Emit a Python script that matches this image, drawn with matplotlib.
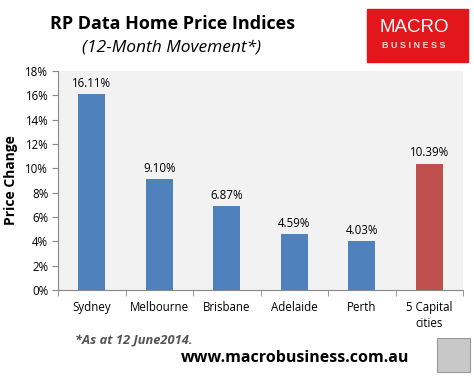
import matplotlib.pyplot as plt
from matplotlib.patches import Rectangle
from matplotlib.ticker import FuncFormatter, FixedLocator
import numpy as np

cities = ["Sydney", "Melbourne", "Brisbane", "Adelaide", "Perth", "5 Capital\ncities"]
changes = [16.11, 9.10, 6.87, 4.59, 4.03, 10.39]
bar_colors = ["#4F81BD"] * 5 + ["#C0504D"]

plt.rcParams['font.family'] = ['Open Sans', 'DejaVu Sans']

fig = plt.figure(figsize=(4.74, 3.78), dpi=100)
ax = fig.add_axes([58 / 474, 1 - 290 / 378, 405 / 474, 219 / 378])
ax.set_facecolor("#F2F2F2")

x = np.arange(len(cities))
ax.bar(x, changes, width=0.4, color=bar_colors, zorder=2)
for xi, v in zip(x, changes):
    ax.text(xi, v + 0.35, f"{v:.2f}%", ha="center", va="bottom", fontsize=8.3)

ax.set_xlim(-0.5, len(cities) - 0.5)
ax.set_ylim(0, 18)
ax.set_yticks(np.arange(0, 19, 2))
ax.yaxis.set_major_formatter(FuncFormatter(lambda v, p: f"{v:.0f}%"))
ax.tick_params(axis="y", labelsize=8.3, length=4, color="#888888", pad=3)

ax.set_xticks(x)
ax.set_xticklabels(cities, fontsize=8.3, linespacing=1.3)
ax.tick_params(axis="x", length=0, pad=8)
ax.xaxis.set_minor_locator(FixedLocator(np.arange(-0.5, len(cities), 1)))
ax.tick_params(axis="x", which="minor", length=4, color="#888888")

for s in ["top", "right"]:
    ax.spines[s].set_visible(False)
for s in ["left", "bottom"]:
    ax.spines[s].set_color("#888888")
    ax.spines[s].set_linewidth(0.8)

ax.set_ylabel("Price Change", fontsize=10, fontweight="bold", labelpad=5)

fig.text(172 / 474, 1 - 24 / 378, "RP Data Home Price Indices", ha="center", va="center",
         fontsize=13, fontweight="bold")
fig.text(172 / 474, 1 - 47 / 378, "(12-Month Movement*)", ha="center", va="center",
         fontsize=12.5, style="italic")

# logo box
fig.patches.append(Rectangle((367 / 474, 1 - 62 / 378), 101 / 474, 53 / 378,
                             transform=fig.transFigure, color="#E3161B", zorder=3))
fig.text(414 / 474, 1 - 27 / 378, "MACRO", ha="center", va="center", color="white",
         fontsize=13.5, fontweight="light", family=["Liberation Sans", "DejaVu Sans"], zorder=4)
fig.text(414 / 474, 1 - 45 / 378, "B U S I N E S S", ha="center", va="center",
         color="#F4DADA", fontsize=6.5, fontweight="bold",
         family=["Liberation Sans", "DejaVu Sans"], zorder=4)

fig.text(75 / 474, 1 - 341 / 378, "*As at 12 June2014.", ha="left", va="center",
         fontsize=9.3, fontweight="bold", style="italic", color="#555555")
fig.text(295 / 474, 1 - 358 / 378, "www.macrobusiness.com.au", ha="center", va="center",
         fontsize=11.5, fontweight="bold")
fig.patches.append(Rectangle((437 / 474, 1 - 372 / 378), 33 / 474, 34 / 378,
                             transform=fig.transFigure, facecolor="#C8C8C8",
                             edgecolor="#999999", lw=0.8))

fig.savefig("out.png", dpi=100)
